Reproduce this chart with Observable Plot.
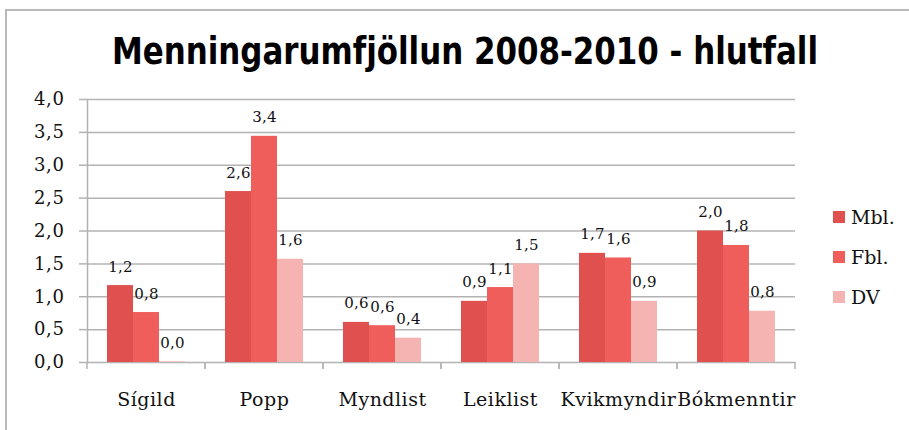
<!DOCTYPE html>
<html>
<head>
<meta charset="utf-8">
<script src="https://cdn.jsdelivr.net/npm/d3@7"></script>
<script src="https://cdn.jsdelivr.net/npm/@observablehq/plot@0.6"></script>
<style>
  html, body { margin: 0; padding: 0; background: #fff; }
  #wrap { position: relative; width: 909px; height: 430px; overflow: hidden; }
  #frame { position: absolute; left: 5px; top: 9px; width: 920px; height: 440px;
           border-left: 2px solid #b9b9b9; border-top: 2px solid #b9b9b9; box-sizing: border-box; }
  #title { position: absolute; left: 0; top: 0; }
  #chart { position: absolute; left: 0; top: 85px; }
  #legend { position: absolute; left: 833px; top: 197px; font-family: "DejaVu Serif", serif; font-size: 19px; color: #111; }
  .item { display: flex; align-items: center; height: 40px; }
  .sw { width: 12px; height: 12px; margin-right: 6px; }
  #chart svg g[aria-label="y-axis tick label"] { letter-spacing: 0.6px; }
  #chart svg g[aria-label="fx-axis tick label"] { letter-spacing: 0.5px; }
  #chart svg g[aria-label="text"] { letter-spacing: 0.3px; }
</style>
</head>
<body>
<div id="wrap">
  <div id="frame"></div>
  <svg id="title" width="909" height="85">
    <text x="465" y="64" text-anchor="middle" textLength="706" lengthAdjust="spacingAndGlyphs"
      font-family="'DejaVu Sans Condensed', 'DejaVu Sans', sans-serif" font-weight="bold" font-size="37" fill="#000">Menningarumfjöllun 2008-2010 - hlutfall</text>
  </svg>
  <div id="chart"></div>
  <div id="legend"></div>
</div>
<script>
// ---- data ----
const categories = ["Sígild", "Popp", "Myndlist", "Leiklist", "Kvikmyndir", "Bókmenntir"];
const series = ["Mbl.", "Fbl.", "DV"];
const mbl = [1.17, 2.60, 0.61, 0.93, 1.66, 2.00];
const fbl = [0.76, 3.44, 0.56, 1.14, 1.59, 1.78];
const dv  = [0.01, 1.57, 0.37, 1.50, 0.93, 0.78];
const yTicks = [0, 0.5, 1, 1.5, 2, 2.5, 3, 3.5, 4];
const colors = ["#df504e", "#f05e5c", "#f5b4b2"];

const seriesValues = [mbl, fbl, dv];
const rows = categories.flatMap((c, i) => series.map((s, j) => ({cat: c, series: s, value: seriesValues[j][i]})));
const fmt = v => v.toFixed(1).replace(".", ",");
const gridColor = "#b3b3b3";

const boundaryTicks = (index, scales, values, dims) => {
  const [x0, x1] = scales.x.range();
  const y0 = scales.y(0);
  const g = d3.create("svg:g").attr("stroke", gridColor).attr("stroke-width", 1.5);
  for (const x of [x0, x1]) g.append("line").attr("x1", x).attr("x2", x).attr("y1", y0).attr("y2", y0 + 7);
  return g.node();
};

const chart = Plot.plot({
  width: 909,
  height: 345,
  marginTop: 14,
  marginBottom: 68,
  marginLeft: 85,
  marginRight: 113,
  style: {fontFamily: "'DejaVu Serif', serif", color: "#111", background: "transparent"},
  fx: {domain: categories, padding: 0, label: null},
  x: {domain: series, paddingInner: 0, paddingOuter: 0.75, axis: null},
  y: {domain: [0, 4], axis: null},
  color: {domain: series, range: colors},
  marks: [
    Plot.ruleY(yTicks, {y: d => d, stroke: gridColor, strokeWidth: 1.5}),
    Plot.axisY({ticks: yTicks, tickSize: 8, tickPadding: 15, tickFormat: fmt, stroke: gridColor, strokeWidth: 1.5, fill: "#111", fontSize: 18, label: null}),
    Plot.frame({anchor: "left", facetAnchor: "left", stroke: gridColor, strokeWidth: 1.5}),
    boundaryTicks,
    Plot.barY(rows, {fx: "cat", x: "series", y: "value", fill: "series"}),
    Plot.text(rows, {fx: "cat", x: "series", y: "value", text: d => fmt(d.value), dy: -14, lineAnchor: "bottom", fontSize: 15, fill: "#111"}),
    Plot.axisFx({anchor: "bottom", tickSize: 0, tickPadding: 30, fontSize: 19, label: null, fill: "#111"})
  ]
});
document.getElementById("chart").appendChild(chart);

const legend = document.getElementById("legend");
series.forEach((s, i) => {
  const item = document.createElement("div");
  item.className = "item";
  const sw = document.createElement("div");
  sw.className = "sw";
  sw.style.background = colors[i];
  const t = document.createElement("span");
  t.textContent = s;
  item.appendChild(sw);
  item.appendChild(t);
  legend.appendChild(item);
});
</script>
</body>
</html>
